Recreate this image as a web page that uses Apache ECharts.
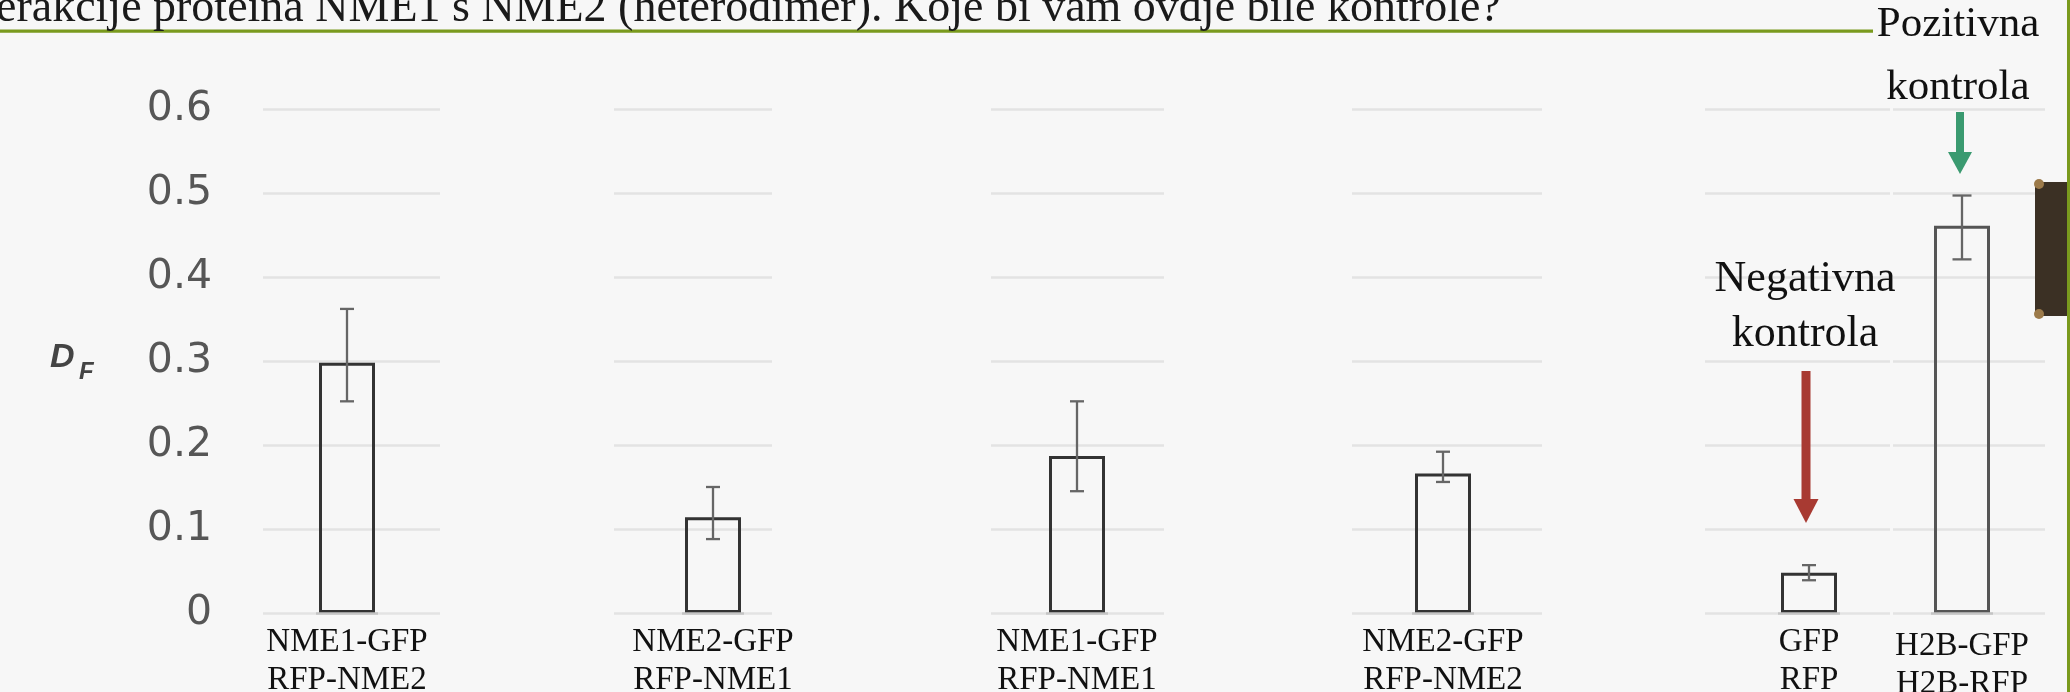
<!DOCTYPE html>
<html>
<head>
<meta charset="utf-8">
<script src="https://cdn.jsdelivr.net/npm/echarts@6/dist/echarts.min.js"></script>
<style>
  html, body { margin: 0; padding: 0; background: #f7f7f7; }
  #chart { width: 2070px; height: 692px; }
</style>
</head>
<body>
<div id="chart"></div>
<script>
// ---- data ----
const categories = ['NME1-GFP\nRFP-NME2', 'NME2-GFP\nRFP-NME1', 'NME1-GFP\nRFP-NME1', 'NME2-GFP\nRFP-NME2', 'GFP\nRFP', 'H2B-GFP\nH2B-RFP'];
const values  = [0.298, 0.114, 0.187, 0.166, 0.048, 0.461];
const errLow  = [0.252, 0.088, 0.145, 0.156, 0.039, 0.421];
const errHigh = [0.362, 0.150, 0.252, 0.192, 0.057, 0.497];
const yTicks  = ['0', '0.1', '0.2', '0.3', '0.4', '0.5', '0.6'];
const yLabel  = 'D';
const ySub    = 'F';
const titleText = 'erakcije proteina NME1 s NME2 (heterodimer). Koje bi vam ovdje bile kontrole?';
const posText = ['Pozitivna', 'kontrola'];
const negText = ['Negativna', 'kontrola'];

// ---- layout (positions only) ----
const panelL = [263, 614, 991, 1352, 1705, 1893];
const panelR = [440, 772, 1164, 1542, 1890, 2045];
const barCenters = [347, 713, 1077, 1443, 1809, 1962];
const gTop = 109, gH = 504;
const barGridW = 62;

const grids = [], xAxes = [], yAxes = [], series = [];
categories.forEach((cat, i) => {
  // gridline panel
  grids.push({ left: panelL[i], width: panelR[i] - panelL[i], top: gTop, height: gH, containLabel: false, outerBoundsMode: 'none' });
  xAxes.push({ type: 'category', gridIndex: 2 * i, data: [''], axisLine: { show: false }, axisTick: { show: false }, axisLabel: { show: false } });
  yAxes.push({
    type: 'value', gridIndex: 2 * i, min: 0, max: 0.6, interval: 0.1,
    axisLine: { show: false }, axisTick: { show: false },
    splitLine: { show: true, lineStyle: { color: '#e3e3e3', width: 2.5 } },
    axisLabel: {
      show: i === 0, margin: 51, color: '#565656',
      fontFamily: 'DejaVu Sans', fontSize: 41,
      formatter: (v) => yTicks[Math.round(v * 10)]
    }
  });
  // bar panel
  grids.push({ left: barCenters[i] - barGridW / 2, width: barGridW, top: gTop, height: gH, containLabel: false, outerBoundsMode: 'none' });
  xAxes.push({
    type: 'category', gridIndex: 2 * i + 1, data: [cat],
    axisLine: { show: false }, axisTick: { show: false },
    axisLabel: {
      interval: 0, margin: i === 5 ? 14 : 10, color: '#111',
      fontFamily: 'Liberation Serif', fontSize: 33, lineHeight: 38, align: 'center'
    }
  });
  yAxes.push({ type: 'value', gridIndex: 2 * i + 1, min: 0, max: 0.6, interval: 0.1, show: false, splitLine: { show: false } });

  series.push({
    type: 'bar', xAxisIndex: 2 * i + 1, yAxisIndex: 2 * i + 1,
    data: [values[i]], barWidth: 56,
    itemStyle: { color: 'rgba(0,0,0,0)', borderColor: i === 5 ? '#555' : '#333', borderWidth: 3 },
    markLine: {
      silent: true, symbol: 'none', label: { show: false },
      lineStyle: { color: '#c4c4c4', width: 2.5, type: 'solid' },
      data: [{ yAxis: 0 }]
    },
    z: 3
  });
  series.push({
    type: 'custom', xAxisIndex: 2 * i + 1, yAxisIndex: 2 * i + 1,
    data: [[0, errLow[i], errHigh[i]]],
    encode: { x: 0, y: [1, 2] },
    z: 4,
    renderItem: function (params, api) {
      const lo = api.coord([api.value(0), api.value(1)]);
      const hi = api.coord([api.value(0), api.value(2)]);
      const cw = i === 5 ? 9.5 : 7;
      const st = { stroke: '#666', lineWidth: 2.3 };
      return {
        type: 'group', children: [
          { type: 'line', shape: { x1: lo[0], y1: lo[1], x2: hi[0], y2: hi[1] }, style: st },
          { type: 'line', shape: { x1: lo[0] - cw, y1: lo[1], x2: lo[0] + cw, y2: lo[1] }, style: st },
          { type: 'line', shape: { x1: hi[0] - cw, y1: hi[1], x2: hi[0] + cw, y2: hi[1] }, style: st }
        ]
      };
    }
  });
});

function txt(x, y, text, font, fill, align) {
  return { type: 'text', x: x, y: y, z: 100,
    style: { text: text, font: font, fill: fill, align: align || 'center', verticalAlign: 'middle',
             textAlign: align || 'center', textVerticalAlign: 'middle' } };
}
function arrow(cx, y0, yHead, yTip, shaftW, headW, color) {
  return [
    { type: 'rect', z: 100, shape: { x: cx - shaftW / 2, y: y0, width: shaftW, height: yHead - y0 + 1 }, style: { fill: color } },
    { type: 'polygon', z: 100, shape: { points: [[cx - headW / 2, yHead], [cx + headW / 2, yHead], [cx, yTip]] }, style: { fill: color } }
  ];
}

const serif = '"Liberation Serif", "DejaVu Serif", serif';
const graphics = [
  txt(-4, 9, titleText, '46px ' + serif, '#1a1a1a', 'left'),
  { type: 'rect', z: 99, shape: { x: 0, y: 29.5, width: 1873, height: 3.2 }, style: { fill: '#7a9a1e' } },
  { type: 'rect', z: 99, shape: { x: 2067, y: 0, width: 3, height: 692 }, style: { fill: '#7a9a1e' } },
  { type: 'rect', z: 98, shape: { x: 2035, y: 182, width: 32, height: 134 }, style: { fill: '#3b3024' } },
  { type: 'circle', z: 98, shape: { cx: 2039, cy: 184, r: 5 }, style: { fill: '#9c7a4a' } },
  { type: 'circle', z: 98, shape: { cx: 2039, cy: 314, r: 5 }, style: { fill: '#9c7a4a' } },
  txt(1958, 25, posText[0], '43px ' + serif, '#111'),
  txt(1958, 88, posText[1], '43px ' + serif, '#111'),
  txt(1805, 279, negText[0], '44px ' + serif, '#111'),
  txt(1805, 334, negText[1], '44px ' + serif, '#111'),
  ...arrow(1960, 112, 152, 174, 8, 24, '#3a9a70'),
  ...arrow(1806, 371, 499, 523, 9, 25, '#a83a32'),
  txt(50, 358, yLabel, 'italic bold 34px "Liberation Sans", Arial, sans-serif', '#444', 'left'),
  txt(79, 372, ySub, 'italic bold 24px "Liberation Sans", Arial, sans-serif', '#444', 'left')
];

const chart = echarts.init(document.getElementById('chart'), null, { renderer: 'canvas' });
chart.setOption({
  backgroundColor: '#f7f7f7',
  animation: false,
  grid: grids,
  xAxis: xAxes,
  yAxis: yAxes,
  series: series,
  graphic: { elements: graphics }
});
</script>
</body>
</html>
